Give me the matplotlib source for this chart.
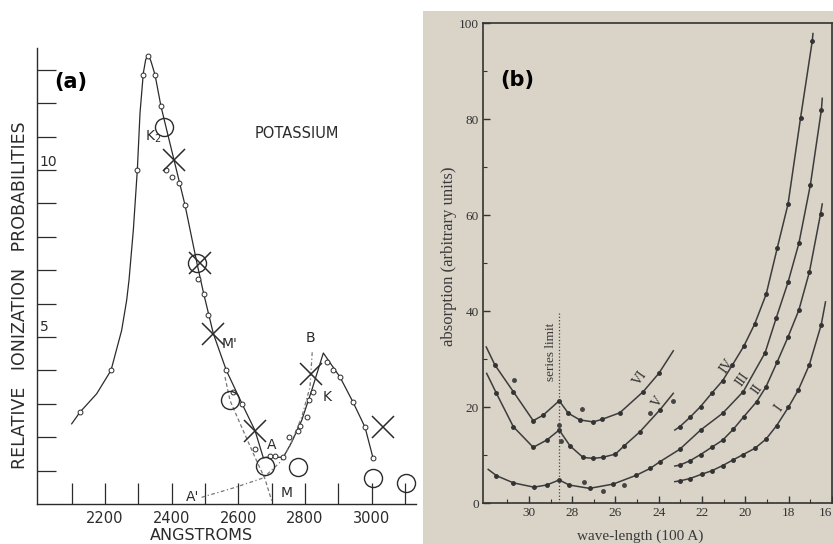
import matplotlib
matplotlib.use('Agg')
import matplotlib.pyplot as plt
from matplotlib.patches import Rectangle
from matplotlib.ticker import MultipleLocator, FixedLocator

# ---------------- panel (a): potassium ----------------
# solid curve, left peak (angstrom, relative probability)
a_peak_x = [2100, 2125, 2175, 2218, 2250, 2265, 2272, 2285, 2297, 2305, 2315, 2322, 2330,
            2338, 2350, 2368, 2385, 2407, 2440, 2476, 2496, 2525, 2564, 2611, 2650, 2675,
            2685, 2735]
a_peak_y = [2.4, 2.75, 3.3, 4.0, 5.2, 6.1, 6.7, 8.2, 10.0, 11.7, 12.9, 13.3, 13.45,
            13.25, 12.85, 11.9, 11.2, 10.3, 8.95, 7.2, 6.3, 5.1, 4.0, 3.0, 2.2, 1.38,
            1.4, 1.4]
# solid curve, second peak
a_k_x = [2735, 2760, 2790, 2820, 2845, 2855, 2884, 2905, 2944, 2980, 3004]
a_k_y = [1.4, 1.85, 2.5, 3.4, 4.2, 4.52, 4.1, 3.8, 3.05, 2.3, 1.38]
# dashed branch down to M
a_m_x = [2560, 2575, 2610, 2650, 2680, 2700]
a_m_y = [3.8, 3.1, 2.3, 1.4, 0.75, 0.1]
# dashed branch A' -> B
a_b_x = [2490, 2585, 2675, 2725, 2755, 2790, 2815, 2822]
a_b_y = [0.2, 0.48, 0.78, 1.25, 1.75, 2.6, 3.5, 4.6]
# measured points
a_pts_x = [2125, 2218, 2297, 2314, 2330, 2350, 2368, 2383, 2401, 2422, 2440, 2479, 2496,
           2510, 2564, 2585, 2611, 2650, 2695, 2710, 2734, 2752, 2780, 2785, 2805, 2812,
           2824, 2865, 2884, 2905, 2944, 2980, 3004]
a_pts_y = [2.75, 4.0, 10.0, 12.85, 13.4, 12.85, 11.9, 10.0, 9.8, 9.6, 8.95, 6.75, 6.3,
           5.66, 4.0, 3.35, 3.0, 1.65, 1.44, 1.44, 1.4, 2.0, 2.2, 2.33, 2.6, 3.1,
           3.35, 4.25, 4.0, 3.8, 3.05, 2.3, 1.38]
a_circ_x = [2378, 2476, 2575, 2680, 2780, 3005, 3103]
a_circ_y = [11.3, 7.2, 3.1, 1.15, 1.1, 0.77, 0.63]
a_cross_x = [2407, 2485, 2525, 2650, 2818, 3035]
a_cross_y = [10.3, 7.2, 5.1, 2.2, 3.9, 2.3]
a_xticks = list(range(2100, 3200, 100))
a_xlabels = [str(v) if v % 200 == 0 and v < 3100 else '' for v in a_xticks]
a_yticks = list(range(1, 14))

# ---------------- panel (b): absorption ----------------
b6_x = [31.97, 31.57, 30.72, 29.8, 29.34, 28.6, 28.18, 27.64, 27.03, 26.64, 25.8, 24.72, 24.0, 23.33]
b6_y = [32.5, 28.75, 23.2, 17.15, 18.3, 21.3, 18.7, 17.3, 16.9, 17.4, 18.8, 23.2, 27.0, 31.7]
b5_x = [31.95, 31.5, 30.72, 29.8, 29.18, 28.6, 28.1, 27.5, 27.05, 26.6, 26.0, 25.6, 24.87, 23.95, 23.33]
b5_y = [27.0, 22.85, 15.9, 11.6, 13.1, 15.2, 11.9, 9.5, 9.3, 9.5, 10.2, 11.9, 14.85, 19.4, 22.85]
b3_x = [31.88, 31.5, 30.72, 29.77, 29.18, 28.6, 28.14, 27.2, 26.1, 25.03, 24.4, 23.95, 23.03,
        22.07, 21.05, 20.1, 19.09, 18.58, 18.03, 17.53, 17.0, 16.49, 16.45]
b3_y = [7.0, 5.7, 4.2, 3.3, 3.75, 4.8, 3.75, 3.05, 3.95, 5.8, 7.2, 8.6, 11.2,
        15.2, 18.7, 23.2, 31.3, 38.5, 46.0, 54.1, 66.25, 81.9, 84.3]
b4_x = [23.26, 23.03, 22.56, 22.07, 21.56, 21.05, 20.6, 20.07, 19.57, 19.04, 18.53, 18.03, 17.45, 16.91, 16.88]
b4_y = [15.2, 15.9, 17.85, 20.1, 22.85, 25.5, 28.75, 32.7, 37.3, 43.5, 53.1, 62.3, 80.3, 96.3, 97.8]
b2_x = [23.26, 23.03, 22.56, 22.07, 21.56, 21.05, 20.56, 20.07, 19.48, 19.05, 18.53, 18.03, 17.53, 17.04, 16.53, 16.45]
b2_y = [7.7, 7.9, 8.8, 10.1, 11.6, 13.1, 15.35, 18.0, 21.1, 24.2, 29.4, 34.6, 40.2, 48.2, 60.2, 62.3]
b1_x = [23.26, 23.03, 22.56, 22.02, 21.56, 21.05, 20.56, 20.1, 19.56, 19.05, 18.56, 18.02, 17.56, 17.05, 16.5, 16.3]
b1_y = [4.45, 4.6, 5.1, 6.0, 6.7, 7.8, 9.0, 10.1, 11.4, 13.3, 16.1, 19.9, 23.5, 28.75, 37.1, 41.9]
b_stray_x = [30.7, 27.55, 24.4, 23.35, 26.6, 27.45, 25.6, 28.6, 28.5]
b_stray_y = [25.6, 19.6, 18.75, 21.25, 2.5, 4.4, 3.75, 16.2, 12.9]
b_names = ['VI', 'V', 'IV', 'III', 'II', 'I']
b_name_x = [24.85, 24.05, 20.85, 20.15, 19.45, 18.45]
b_name_y = [26.0, 21.0, 28.6, 25.8, 23.6, 19.8]
b_xticks = [30, 28, 26, 24, 22, 20, 18, 16]
b_xminor = [31, 29, 27, 25, 23, 21, 19, 17]
series_limit = 28.62
series_top = 39.5

W, H = 833.0, 544.0


def box(l, t, r, b):
    return [l / W, 1 - b / H, (r - l) / W, (b - t) / H]


fig = plt.figure(figsize=(W / 100, H / 100), dpi=100)
fig.patches.append(Rectangle((423 / W, 0), 1 - 423 / W, 1 - 11 / H, transform=fig.transFigure,
                             facecolor='#d9d3c8', edgecolor='none', zorder=-10))

ink = '#2b2b2b'

# ---- panel (a)
ax = fig.add_axes(box(37, 48, 416, 504))
ax.set_xlim(1996, 3133)
ax.set_ylim(0, 13.65)
ax.plot(a_peak_x, a_peak_y, color=ink, lw=0.9)
ax.plot(a_k_x, a_k_y, color=ink, lw=0.9)
ax.plot(a_m_x, a_m_y, color='#777777', lw=0.9, ls=(0, (3, 2)))
ax.plot(a_b_x, a_b_y, color='#777777', lw=0.9, ls=(0, (3, 2, 1, 2)))
ax.plot(a_pts_x, a_pts_y, 'o', ms=3.5, mfc='white', mec=ink, mew=0.7)
ax.plot(a_circ_x, a_circ_y, 'o', ms=13, mfc='none', mec=ink, mew=1.0)
ax.plot(a_cross_x, a_cross_y, 'x', ms=16, mec=ink, mew=1.1)

for s in ['top', 'right']:
    ax.spines[s].set_visible(False)
for s in ['left', 'bottom']:
    ax.spines[s].set_color(ink)
    ax.spines[s].set_linewidth(1.0)
ax.set_xticks(a_xticks)
ax.set_xticklabels(a_xlabels, fontsize=10.5, color=ink)
ax.set_yticks(a_yticks)
ax.set_yticklabels([])
ax.tick_params(axis='x', direction='in', length=15, width=0.9, color=ink, pad=5)
ax.tick_params(axis='y', direction='in', length=14, width=0.9, color=ink)
ax.text(2030, 10.25, '10', ha='center', va='center', fontsize=10, color=ink)
ax.text(2018, 5.3, '5', ha='center', va='center', fontsize=10, color=ink)

ax.text(2344, 11.0, 'K$_2$', fontsize=10, color=ink, ha='center', va='center')
ax.text(2575, 4.8, "M'", fontsize=10, color=ink, ha='center', va='center')
ax.text(2700, 1.77, 'A', fontsize=10, color=ink, ha='center', va='center')
ax.text(2815, 4.97, 'B', fontsize=10, color=ink, ha='center', va='center')
ax.text(2866, 3.2, 'K', fontsize=10, color=ink, ha='center', va='center')
ax.text(2464, 0.2, "A'", fontsize=10, color=ink, ha='center', va='center')
ax.text(2746, 0.33, 'M', fontsize=10, color=ink, ha='center', va='center')
ax.text(2776, 11.1, 'POTASSIUM', fontsize=10.5, color=ink, ha='center', va='center')

fig.text(20 / W, 1 - 295 / H, 'RELATIVE   IONIZATION   PROBABILITIES', rotation=90,
         ha='center', va='center', fontsize=12.5, color=ink)
fig.text(201 / W, 1 - 535 / H, 'ANGSTROMS', ha='center', va='center', fontsize=11.5, color=ink)
fig.text(71 / W, 1 - 82 / H, '(a)', ha='center', va='center', fontsize=15, fontweight='bold')

# ---- panel (b)
serif = ['Liberation Serif', 'DejaVu Serif']
line_c = '#3c3c3c'
bx = fig.add_axes(box(483, 23, 832, 503))
bx.set_facecolor('none')
bx.set_xlim(32.12, 16.0)
bx.set_ylim(0, 100)
for xs, ys in [(b6_x, b6_y), (b5_x, b5_y), (b3_x, b3_y), (b4_x, b4_y), (b2_x, b2_y), (b1_x, b1_y)]:
    bx.plot(xs, ys, color=line_c, lw=1.1)
    bx.plot(xs[1:-1], ys[1:-1], 'o', ms=2.5, color='#333333')
bx.plot(b_stray_x, b_stray_y, 'o', ms=2.5, color='#444444')
bx.plot([series_limit, series_limit], [0, series_top], color='#444444', lw=0.9, ls=':')
bx.text(series_limit + 0.36, 31.4, 'series limit', rotation=90, ha='center', va='center',
        fontsize=9.5, family=serif, color='#3a3a3a')
for name, nx, ny in zip(b_names, b_name_x, b_name_y):
    bx.text(nx, ny, name, rotation=55, ha='center', va='center', fontsize=10,
            family=serif, color='#2f2f2f')

bx.xaxis.set_major_locator(FixedLocator(b_xticks))
bx.xaxis.set_minor_locator(FixedLocator(b_xminor))
bx.yaxis.set_major_locator(MultipleLocator(20))
bx.yaxis.set_minor_locator(MultipleLocator(10))
bx.tick_params(which='both', direction='in', color='#333333', labelsize=9.5, labelcolor='#333333', pad=3)
bx.tick_params(which='major', length=5, width=1.0)
bx.tick_params(which='minor', length=3, width=0.8)
fig.canvas.draw()
for lab in bx.get_xticklabels() + bx.get_yticklabels():
    lab.set_family(serif)
for lab in bx.get_xticklabels():
    if lab.get_text() == '16':
        lab.set_horizontalalignment('right')
for s in bx.spines.values():
    s.set_color('#333333')
    s.set_linewidth(1.2)
fig.text(449 / W, 1 - 256 / H, 'absorption (arbitrary units)', rotation=90, ha='center',
         va='center', fontsize=12, family=serif, color='#3a3a3a')
fig.text(640 / W, 1 - 536 / H, 'wave-length (100 A)', ha='center', va='center',
         fontsize=11, family=serif, color='#3a3a3a')
fig.text(517 / W, 1 - 80 / H, '(b)', ha='center', va='center', fontsize=15, fontweight='bold')

fig.savefig('out.png', dpi=100)
